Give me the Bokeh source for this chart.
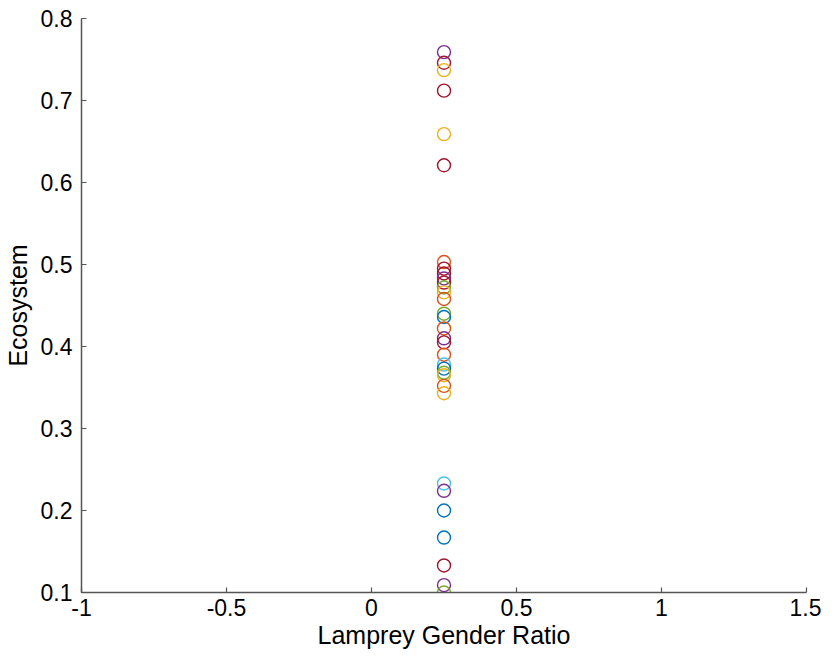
from bokeh.plotting import figure
from bokeh.models import FixedTicker, ColumnDataSource
from bokeh.embed import file_html
from bokeh.resources import INLINE

# MATLAB default palette
BLUE = "#0072BD"
ORANGE = "#D95319"
YELLOW = "#EDB120"
PURPLE = "#7E2F8E"
GREEN = "#77AC30"
LBLUE = "#4DBEEE"
DRED = "#A2142F"

ecosystem = [0.759, 0.746, 0.737, 0.712, 0.659, 0.621,
             0.503, 0.495, 0.489, 0.483, 0.478, 0.472, 0.466, 0.458,
             0.440, 0.436, 0.422, 0.410, 0.405, 0.390, 0.378, 0.373,
             0.368, 0.365, 0.352, 0.343,
             0.233, 0.224, 0.200, 0.167, 0.133, 0.109, 0.100]
gender_ratio = [0.25] * len(ecosystem)
colors = [PURPLE, DRED, YELLOW, DRED, YELLOW, DRED,
          ORANGE, DRED, DRED, PURPLE, DRED, GREEN, YELLOW, ORANGE,
          GREEN, BLUE, ORANGE, PURPLE, DRED, ORANGE, LBLUE, BLUE,
          GREEN, YELLOW, ORANGE, YELLOW,
          LBLUE, PURPLE, BLUE, BLUE, DRED, PURPLE, GREEN]

x_ticks = [-1, -0.5, 0, 0.5, 1, 1.5]
x_tick_labels = ["-1", "-0.5", "0", "0.5", "1", "1.5"]
y_ticks = [0.1, 0.2, 0.3, 0.4, 0.5, 0.6, 0.7, 0.8]
y_tick_labels = ["0.1", "0.2", "0.3", "0.4", "0.5", "0.6", "0.7", "0.8"]

src = ColumnDataSource(dict(x=gender_ratio, y=ecosystem, c=colors))

p = figure(width=821, height=651, x_range=(-1, 1.5), y_range=(0.1, 0.8),
           output_backend="svg", toolbar_location=None,
           min_border_left=80, min_border_right=15, min_border_top=18,
           min_border_bottom=59)
p.outline_line_color = None
p.grid.visible = False
p.background_fill_color = "white"

p.scatter("x", "y", source=src, size=13, fill_color=None, line_color="c",
          line_width=1.4, marker="circle")

FONT = "Liberation Sans"
for ax in (p.xaxis[0], p.yaxis[0]):
    ax.axis_line_color = "#555555"
    ax.axis_line_width = 1.5
    ax.major_tick_line_color = "#555555"
    ax.major_tick_line_width = 1.2
    ax.major_tick_in = 5
    ax.major_tick_out = 0
    ax.minor_tick_line_color = None
    ax.major_label_text_font = FONT
    ax.major_label_text_font_size = "23px"
    ax.major_label_text_color = "black"
    ax.axis_label_text_font = FONT
    ax.axis_label_text_font_size = "25px"
    ax.axis_label_text_font_style = "normal"
    ax.axis_label_text_color = "black"

p.xaxis.ticker = FixedTicker(ticks=x_ticks)
p.xaxis.major_label_overrides = {t: l for t, l in zip(x_ticks, x_tick_labels)}
p.yaxis.ticker = FixedTicker(ticks=y_ticks)
p.yaxis.major_label_overrides = {t: l for t, l in zip(y_ticks, y_tick_labels)}
p.xaxis.axis_label = "Lamprey Gender Ratio"
p.yaxis.axis_label = "Ecosystem"
p.xaxis.major_label_standoff = 6
p.yaxis.major_label_standoff = 9
p.xaxis.axis_label_standoff = 2
p.yaxis.axis_label_standoff = 6

open("out.html", "w").write(file_html(p, INLINE))
